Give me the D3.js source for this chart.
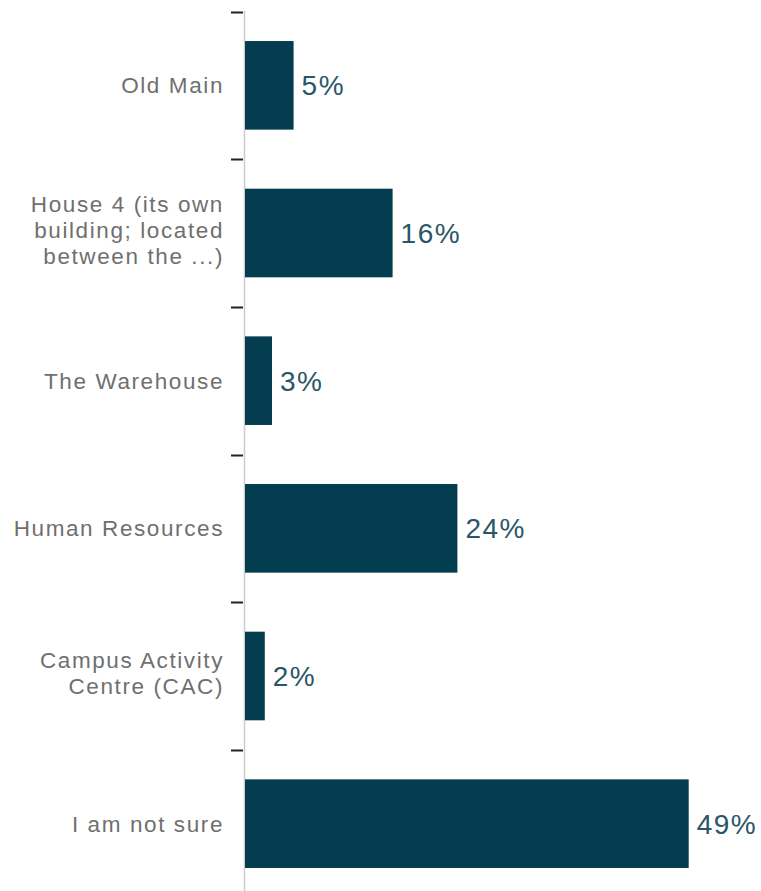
<!DOCTYPE html>
<html>
<head>
<meta charset="utf-8">
<script src="https://cdn.jsdelivr.net/npm/d3@7"></script>
<style>
  html, body { margin: 0; padding: 0; background: #fff; }
</style>
</head>
<body>
<div id="chart"></div>
<script>
// categories (label lines split with \n), values in percent
const categories = [
    "Old Main",
    "House 4 (its own\nbuilding; located\nbetween the ...)",
    "The Warehouse",
    "Human Resources",
    "Campus Activity\nCentre (CAC)",
    "I am not sure"
];
const values = [5.4, 16.4, 3.0, 23.6, 2.2, 49.3];
const valueLabels = ["5%", "16%", "3%", "24%", "2%", "49%"];

const data = categories.map(function(c, i) {
    return {name: c, value: values[i], label: valueLabels[i]};
});

let width = 761;
let height = 891;
let axisX = 244.5;

let svg = d3.select("#chart")
    .append("svg")
    .attr("width", width)
    .attr("height", height);

// outer band scale for ticks, inner one for bars
let yOuter = d3.scaleBand()
    .domain(categories)
    .range([11.5, 897.5])
    .padding(0);

let yScale = d3.scaleBand()
    .domain(categories)
    .range([11.5, 897.5])
    .paddingInner(0.4)
    .paddingOuter(0.2);

let xScale = d3.scaleLinear()
    .domain([0, 50])
    .range([245, 695]);

// axis line
svg.append("line")
    .attr("x1", axisX).attr("x2", axisX)
    .attr("y1", 11).attr("y2", height)
    .style("stroke", "#cccccc")
    .style("stroke-width", 1.5);

// boundary ticks
svg.selectAll(".tick")
    .data(categories)
    .enter().append("line")
    .attr("class", "tick")
    .attr("x1", 231).attr("x2", 243)
    .attr("y1", function(d) { return Math.round(yOuter(d)) + 0.5; })
    .attr("y2", function(d) { return Math.round(yOuter(d)) + 0.5; })
    .style("stroke", "#222")
    .style("stroke-width", 2);

// bars
svg.selectAll(".bar")
    .data(data)
    .enter().append("rect")
    .attr("class", "bar")
    .attr("x", xScale(0))
    .attr("y", function(d) { return yScale(d.name); })
    .attr("width", function(d) { return xScale(d.value) - xScale(0); })
    .attr("height", yScale.bandwidth())
    .style("fill", "#033d4f");

// value labels
svg.selectAll(".val")
    .data(data)
    .enter().append("text")
    .attr("class", "val")
    .attr("x", function(d) { return xScale(d.value) + 8; })
    .attr("y", function(d) { return yScale(d.name) + yScale.bandwidth() / 2; })
    .attr("dy", "0.36em")
    .style("font-family", "'Liberation Sans', Arial, sans-serif")
    .style("font-size", "28px")
    .style("letter-spacing", "1.5px")
    .style("fill", "#2b5668")
    .text(function(d) { return d.label; });

// category labels
let lineH = 26;
let catLabels = svg.selectAll(".cat")
    .data(data)
    .enter().append("text")
    .attr("class", "cat")
    .attr("text-anchor", "end")
    .style("font-family", "'Liberation Sans', Arial, sans-serif")
    .style("font-size", "22.5px")
    .style("letter-spacing", "1.6px")
    .style("fill", "#6f6f6f");

catLabels.each(function(d) {
    let lines = d.name.split("\n");
    let cy = yScale(d.name) + yScale.bandwidth() / 2 - (lines.length > 1 ? 3 : 0);
    let top = cy - (lines.length - 1) * lineH / 2;
    let t = d3.select(this);
    lines.forEach(function(l, i) {
        t.append("tspan")
            .attr("x", 224)
            .attr("y", top + i * lineH)
            .attr("dy", "0.36em")
            .text(l);
    });
});
</script>
</body>
</html>
